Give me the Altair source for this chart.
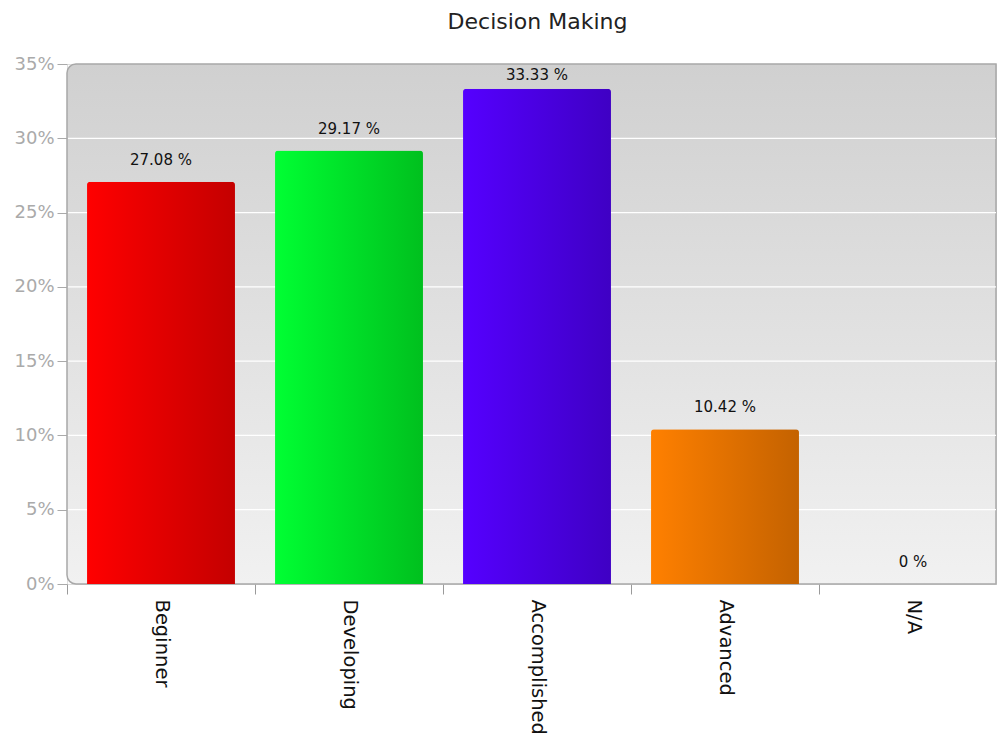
import altair as alt
import pandas as pd

categories = ["Beginner", "Developing", "Accomplished", "Advanced", "N/A"]
values = [27.08, 29.17, 33.33, 10.42, 0.0]
labels = ["27.08 %", "29.17 %", "33.33 %", "10.42 %", "0 %"]
color_left = ["#ff0000", "#00ff33", "#5500ff", "#ff8000", "#aaaaaa"]
color_right = ["#c40000", "#00c01e", "#3f00c4", "#c46200", "#888888"]
y_ticks = [0, 5, 10, 15, 20, 25, 30, 35]

W, H = 929, 520
FONT = "DejaVu Sans"

df = pd.DataFrame({"category": categories,
                   "value": [v / 100 for v in values],
                   "label": labels})
grid_df = pd.DataFrame({"value": [t / 100 for t in y_ticks[1:-1]]})
bg_df = pd.DataFrame({"one": [1]})

yscale = alt.Scale(domain=[0, 0.35], nice=False)
xscale = alt.Scale(domain=categories, range=[0, 940], paddingInner=0, paddingOuter=0)

x_axis = alt.Axis(title=None, labelAngle=90, labelFontSize=19.5, labelFont=FONT,
                  labelColor="#111111", tickBand="extent", tickSize=10,
                  tickColor="#9a9a9a", labelPadding=5, domain=False, grid=False)
y_axis = alt.Axis(title=None, values=[t / 100 for t in y_ticks], format=".0%",
                  labelFontSize=18, labelFont=FONT, labelColor="#aaaaaa",
                  tickColor="#aaaaaa", tickSize=10, labelPadding=3,
                  domain=False, grid=False)

x_enc = alt.X("category:N", sort=categories, scale=xscale, axis=x_axis)
y_enc = alt.Y("value:Q", scale=yscale, axis=y_axis)

background = alt.Chart(bg_df).mark_rect(
    fill=alt.LinearGradient(gradient="linear", x1=0, y1=0, x2=0, y2=1,
                            stops=[alt.GradientStop(color="#d0d0d0", offset=0),
                                   alt.GradientStop(color="#f1f1f1", offset=1)]),
    stroke="#a8a8a8", strokeWidth=1.5,
    cornerRadiusTopLeft=9, cornerRadiusBottomLeft=9,
).encode(x=alt.value(0), x2=alt.value(W), y=alt.value(0), y2=alt.value(H))

grid = alt.Chart(grid_df).mark_rule(color="white", strokeWidth=1.2).encode(
    y=y_enc, x=alt.value(1), x2=alt.value(W))

bars = []
for cat, cl, cr in zip(categories, color_left, color_right):
    bars.append(
        alt.Chart(df).transform_filter(alt.datum.category == cat).mark_bar(
            width=alt.RelativeBandSize(0.787),
            fill=alt.LinearGradient(gradient="linear", x1=0, y1=0, x2=1, y2=0,
                                    stops=[alt.GradientStop(color=cl, offset=0),
                                           alt.GradientStop(color=cr, offset=1)]),
            cornerRadiusTopLeft=3, cornerRadiusTopRight=3,
        ).encode(x=x_enc, y=y_enc)
    )

text = alt.Chart(df).transform_calculate(
    label_y="min(datum.value, 0.3278)"
).mark_text(baseline="bottom", dy=-14, fontSize=15, font=FONT, color="#111111").encode(
    x=x_enc, y=alt.Y("label_y:Q", scale=yscale, axis=y_axis), text="label:N")

chart = alt.layer(background, grid, *bars, text).properties(
    width=W, height=H,
    title=alt.TitleParams("Decision Making", fontSize=22, font=FONT, fontWeight="normal",
                          color="#222222", anchor="middle", dx=6, offset=29, dy=8),
    autosize=alt.AutoSizeParams(type="none"),
    padding={"left": 67, "top": 64, "right": 1, "bottom": 150},
).configure_view(stroke=None).configure(background="white")

chart.save("out.html", embed_options={"renderer": "svg", "actions": False})
